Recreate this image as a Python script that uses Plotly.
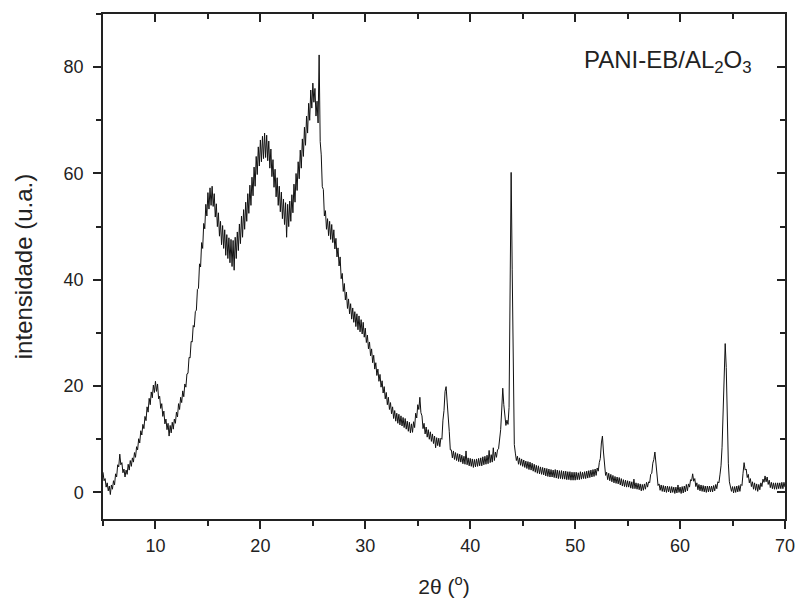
import plotly.graph_objects as go

# Sampling start / step of the diffractogram (2-theta, degrees)
two_theta_start = 5.0
two_theta_step = 0.1

# Intensity (u.a.), one row per degree (5.0 ... 69.9), last value at 70.0
intensity = [
    3.8, 2.2, 2.6, 1.0, 1.8, 0.3, 1.2, -0.4, 1.4, 0.6,          # 5
    2.2, 1.4, 3.5, 2.9, 5.2, 4.8, 7.2, 5.2, 5.6, 3.7,           # 6
    4.4, 2.9, 4.2, 3.4, 5.3, 4.2, 6.0, 4.9, 6.5, 5.7,           # 7
    7.5, 6.6, 8.6, 8.0, 10.1, 9.3, 11.6, 10.8, 12.8, 12.0,      # 8
    14.3, 13.5, 16.1, 15.1, 17.7, 16.5, 18.9, 17.8, 20.2, 18.8, # 9
    20.9, 19.0, 20.4, 17.6, 18.1, 15.8, 16.7, 14.3, 15.3, 12.9, # 10
    13.8, 11.8, 13.0, 10.6, 12.6, 11.2, 13.2, 11.9, 13.8, 13.0, # 11
    15.1, 14.2, 16.7, 15.6, 17.9, 16.9, 19.1, 18.0, 20.4, 19.8, # 12
    22.3, 22.4, 25.4, 25.3, 28.4, 28.3, 31.4, 31.1, 34.0, 34.3, # 13
    38.2, 38.4, 43.0, 42.4, 47.0, 45.9, 50.6, 49.6, 54.2, 52.0, # 14
    56.4, 53.3, 57.3, 54.0, 57.6, 53.8, 56.2, 51.8, 54.3, 50.0, # 15
    52.6, 48.2, 51.0, 46.6, 50.2, 45.9, 49.4, 44.6, 48.5, 44.0, # 16
    47.9, 43.2, 47.6, 42.5, 47.4, 41.8, 48.0, 44.0, 49.0, 45.5, # 17
    50.5, 46.8, 52.0, 48.0, 53.2, 49.5, 54.6, 51.0, 56.2, 52.5, # 18
    57.8, 54.0, 59.3, 55.8, 61.2, 57.6, 63.2, 59.8, 65.0, 61.4, # 19
    66.3, 62.2, 67.0, 62.8, 67.6, 63.0, 67.2, 62.4, 66.1, 61.0, # 20
    64.6, 59.4, 62.6, 57.4, 60.8, 55.6, 59.2, 54.0, 57.6, 52.8, # 21
    56.5, 51.5, 55.2, 50.4, 54.5, 48.0, 54.2, 50.0, 54.8, 51.0, # 22
    56.0, 52.6, 58.0, 54.6, 60.0, 56.8, 62.2, 59.0, 64.4, 61.0, # 23
    66.5, 63.2, 68.7, 65.3, 70.8, 67.6, 73.2, 70.0, 75.7, 72.3, # 24
    77.0, 73.4, 76.0, 70.8, 73.6, 69.5, 82.3, 66.0, 63.5, 57.5, # 25
    57.0, 52.0, 53.0, 49.5, 51.5, 48.3, 51.0, 47.6, 50.4, 47.0, # 26
    49.4, 45.8, 47.8, 44.3, 46.0, 42.6, 44.3, 40.2, 41.2, 37.8, # 27
    39.3, 36.2, 37.7, 34.6, 36.4, 33.6, 35.5, 32.6, 34.7, 32.0, # 28
    34.0, 31.2, 33.6, 30.6, 33.2, 30.2, 32.5, 29.8, 32.0, 29.2, # 29
    30.9, 28.2, 29.6, 27.0, 28.3, 25.7, 27.0, 24.4, 25.8, 23.2, # 30
    24.4, 22.0, 23.2, 20.9, 22.2, 19.8, 21.0, 18.7, 19.9, 17.6, # 31
    18.8, 16.5, 17.9, 15.6, 16.9, 14.8, 16.1, 13.9, 15.4, 13.4, # 32
    14.9, 13.0, 14.7, 12.7, 14.4, 12.5, 14.1, 12.2, 13.9, 11.9, # 33
    13.4, 11.5, 13.2, 11.2, 12.9, 11.3, 13.3, 12.2, 14.9, 14.0, # 34
    16.5, 15.6, 17.9, 15.0, 14.4, 12.0, 13.0, 11.0, 12.3, 10.4, # 35
    11.8, 10.0, 11.4, 9.6, 11.0, 9.2, 10.6, 8.4, 10.3, 8.8,     # 36
    10.2, 8.6, 10.2, 10.0, 13.6, 15.4, 19.0, 19.9, 17.0, 14.8,  # 37
    11.5, 8.0, 8.0, 6.5, 7.8, 6.2, 7.5, 6.0, 7.3, 5.8,          # 38
    7.2, 5.7, 7.0, 5.4, 6.8, 5.3, 7.8, 5.2, 6.5, 5.0,           # 39
    6.4, 4.9, 6.3, 4.7, 6.2, 4.8, 6.3, 4.9, 6.4, 5.0,           # 40
    6.5, 5.0, 6.7, 5.2, 6.8, 5.3, 7.0, 5.4, 7.9, 5.6,           # 41
    7.1, 5.7, 8.4, 6.0, 7.6, 6.6, 8.0, 8.2, 9.6, 11.8,          # 42
    15.5, 19.6, 16.5, 14.4, 12.6, 13.6, 12.8, 16.0, 36.0, 60.2, # 43
    42.0, 18.0, 9.0, 7.4, 6.0, 6.8, 5.3, 6.5, 5.1, 6.3,         # 44
    4.9, 6.1, 4.7, 5.9, 4.5, 5.8, 4.3, 5.7, 4.2, 5.5,           # 45
    4.0, 5.3, 3.8, 5.1, 3.6, 5.0, 3.5, 4.8, 3.4, 4.7,           # 46
    3.3, 4.6, 3.1, 4.5, 3.0, 4.4, 2.9, 4.3, 2.9, 4.2,           # 47
    2.8, 4.3, 2.7, 4.2, 2.6, 4.1, 2.6, 4.1, 2.5, 4.0,           # 48
    2.5, 4.0, 2.4, 3.9, 2.4, 3.9, 2.3, 3.8, 2.3, 3.8,           # 49
    2.3, 3.8, 2.4, 3.7, 2.4, 3.9, 2.5, 3.8, 2.6, 3.9,           # 50
    2.6, 4.0, 2.7, 4.1, 2.8, 4.2, 2.9, 4.3, 3.0, 4.4,           # 51
    3.2, 4.6, 4.0, 5.6, 6.4, 9.3, 10.6, 7.6, 4.9, 3.2,          # 52
    3.8, 2.4, 3.6, 2.2, 3.4, 2.0, 3.2, 1.8, 3.0, 1.7,           # 53
    2.9, 1.6, 2.8, 1.4, 2.6, 1.2, 2.4, 1.1, 2.3, 1.0,           # 54
    2.2, 1.0, 2.1, 0.8, 2.0, 0.7, 2.5, 0.7, 1.8, 0.6,           # 55
    1.7, 0.5, 1.6, 0.3, 1.5, 0.4, 1.6, 0.6, 1.9, 1.0,           # 56
    2.0, 1.8, 3.4, 3.6, 5.5, 6.2, 7.6, 5.2, 3.3, 1.3,           # 57
    1.6, 0.4, 1.4, 0.2, 1.3, 0.1, 1.2, 0.0, 1.2, 0.1,           # 58
    1.1, -0.1, 1.1, 0.0, 1.0, -0.2, 1.0, -0.1, 1.4, 0.0,        # 59
    1.0, -0.2, 1.1, -0.1, 1.2, 0.1, 1.5, 0.3, 1.6, 1.0,         # 60
    2.4, 2.2, 3.5, 2.1, 2.6, 1.1, 1.8, 0.5, 1.5, 0.3,           # 61
    1.4, 0.2, 1.3, 0.1, 1.2, 0.0, 1.2, 0.1, 1.2, 0.1,           # 62
    1.2, 0.1, 1.3, 0.3, 1.5, 0.7, 2.0, 1.8, 3.3, 5.0,           # 63
    8.5, 15.5, 24.0, 28.0, 23.5, 13.5, 5.5, 2.0, 1.2, 0.2,      # 64
    1.1, -0.1, 1.1, 0.0, 1.2, 0.1, 1.3, 0.2, 1.5, 1.3,          # 65
    3.6, 5.6, 4.2, 4.4, 2.8, 3.4, 1.8, 2.6, 1.1, 2.0,           # 66
    0.6, 1.8, 0.4, 1.6, 0.2, 1.5, 0.5, 1.8, 1.1, 2.5,           # 67
    1.9, 3.1, 2.0, 2.9, 1.5, 2.3, 0.9, 1.9, 0.7, 1.8,           # 68
    0.6, 1.8, 0.6, 1.8, 0.7, 1.8, 0.7, 1.9, 0.7, 1.9,           # 69
    1.0,                                                        # 70
]
two_theta = [round(two_theta_start + two_theta_step * i, 1) for i in range(len(intensity))]

x_ticks = [10, 20, 30, 40, 50, 60, 70]
y_ticks = [0, 20, 40, 60, 80]
x_range = [5, 70]
y_range = [-5, 90]
sample_label = "PANI-EB/AL<sub>2</sub>O<sub>3</sub>"

FONT = "Liberation Sans, Arial, sans-serif"
AX = "#222222"

fig = go.Figure()
fig.add_trace(go.Scatter(x=two_theta, y=intensity, mode="lines",
                         line=dict(color="#111111", width=1), showlegend=False,
                         hoverinfo="x+y"))
# empty trace to activate the mirrored (top/right) tick axes
fig.add_trace(go.Scatter(x=[], y=[], xaxis="x2", yaxis="y2", showlegend=False))

fig.update_layout(
    width=798, height=603,
    margin=dict(l=103, r=13, t=14, b=84),
    paper_bgcolor="white", plot_bgcolor="white",
    font=dict(family=FONT, color=AX, size=18),
    xaxis=dict(range=x_range, tickvals=x_ticks, ticks="outside", ticklen=8, tickwidth=1.5,
               tickcolor=AX, showline=True, linecolor=AX, linewidth=1.5, mirror=True,
               showgrid=False, zeroline=False, automargin=False, ticklabelstandoff=2,
               minor=dict(dtick=5, tick0=0, ticks="outside", ticklen=5, tickwidth=1.5, tickcolor=AX),
               tickfont=dict(size=18, family=FONT, color=AX),
               title=dict(text="2θ (<sup>o</sup>)", font=dict(size=21, family=FONT, color=AX), standoff=24)),
    yaxis=dict(range=y_range, tickvals=y_ticks, ticks="outside", ticklen=8, tickwidth=1.5,
               tickcolor=AX, showline=True, linecolor=AX, linewidth=1.5, mirror=True,
               showgrid=False, zeroline=False, automargin=False, ticklabelstandoff=6,
               minor=dict(dtick=10, tick0=0, ticks="outside", ticklen=5, tickwidth=1.5, tickcolor=AX),
               tickfont=dict(size=18, family=FONT, color=AX),
               title=dict(text="intensidade (u.a.)", font=dict(size=24, family=FONT, color=AX), standoff=24)),
    xaxis2=dict(overlaying="x", side="top", anchor="y", range=x_range, tickvals=x_ticks,
                ticks="inside", ticklen=8, tickwidth=1.5, tickcolor=AX, showticklabels=False,
                showgrid=False, zeroline=False, showline=False, automargin=False,
                minor=dict(dtick=5, tick0=0, ticks="inside", ticklen=5, tickwidth=1.5, tickcolor=AX)),
    yaxis2=dict(overlaying="y", side="right", anchor="x", range=y_range, tickvals=y_ticks,
                ticks="inside", ticklen=8, tickwidth=1.5, tickcolor=AX, showticklabels=False,
                showgrid=False, zeroline=False, showline=False, automargin=False,
                minor=dict(dtick=10, tick0=0, ticks="inside", ticklen=5, tickwidth=1.5, tickcolor=AX)),
    annotations=[dict(text=sample_label, xref="paper", yref="paper", x=0.955, y=0.905,
                      xanchor="right", yanchor="middle", showarrow=False,
                      font=dict(size=24, family=FONT, color=AX))],
)

# remove the browser's default 8px page margin so the figure sits at (0, 0)
fig.write_html("out.html", config={"displayModeBar": False},
               post_script="document.body.style.margin='0px';")
